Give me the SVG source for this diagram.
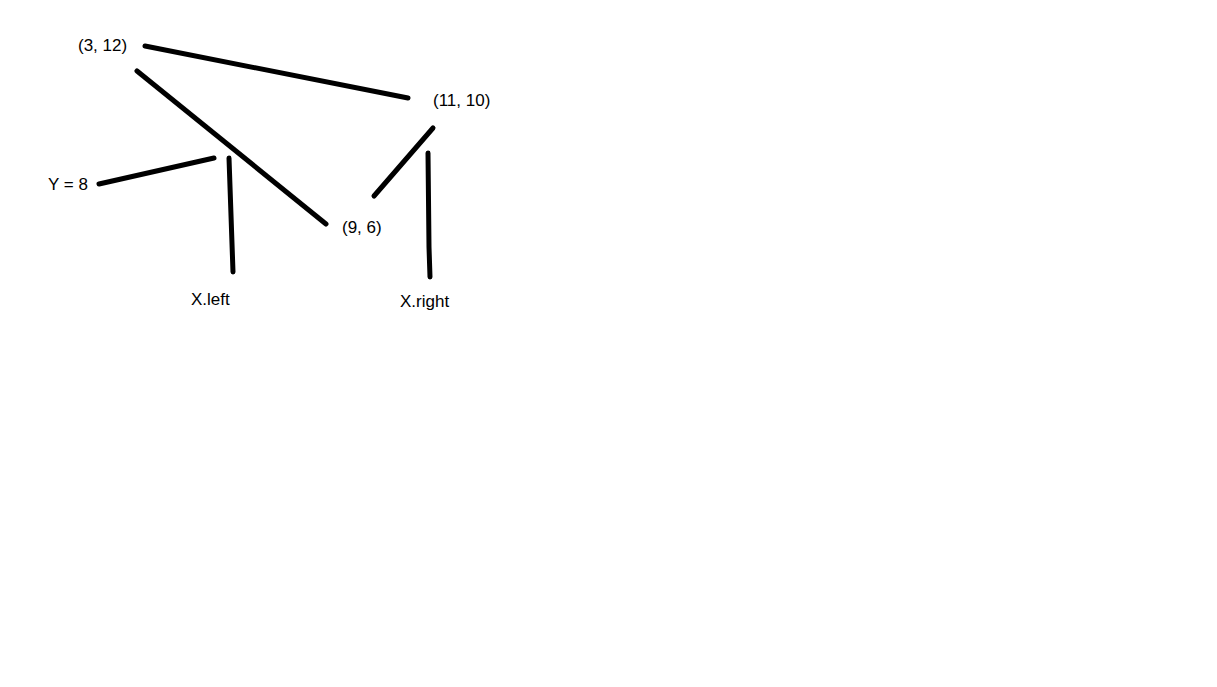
<svg xmlns="http://www.w3.org/2000/svg" width="1217" height="687" viewBox="0 0 1217 687">
<style>
.t{font-family:"Liberation Sans",Arial,sans-serif;font-size:17px;fill:#000}
.c line,.c polyline{stroke:#000;stroke-width:5;stroke-linecap:round;fill:none}
</style>
<rect width="1217" height="687" fill="#fff"/>
<g class="c" id="connectors">
<line x1="145" y1="46" x2="408" y2="98"/>
<line x1="137" y1="71" x2="326" y2="224"/>
<line x1="99" y1="184" x2="214" y2="158"/>
<line x1="229" y1="158" x2="233" y2="272"/>
<line x1="374" y1="196" x2="433" y2="128"/>
<polyline points="428,153 429,247 430,277"/>
</g>
<g id="n1"><text class="t" x="78" y="51">(3, 12)</text></g>
<g id="n2"><text class="t" x="433" y="106">(11, 10)</text></g>
<g id="n3"><text class="t" x="48" y="190">Y = 8</text></g>
<g id="n4"><text class="t" x="342" y="233">(9, 6)</text></g>
<g id="n5"><text class="t" x="191" y="305">X.left</text></g>
<g id="n6"><text class="t" x="400" y="307">X.right</text></g>
</svg>
